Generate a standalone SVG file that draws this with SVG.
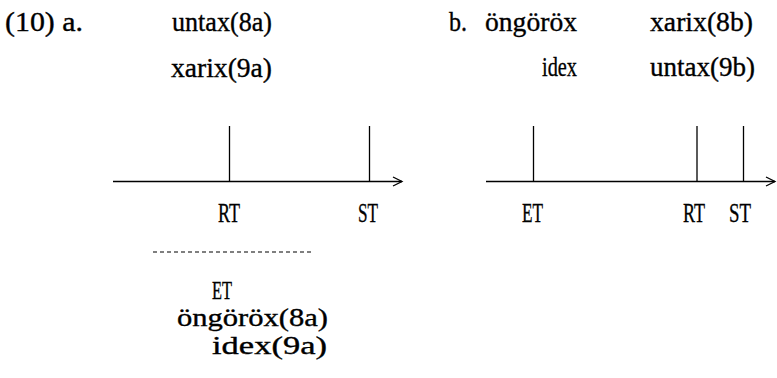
<svg xmlns="http://www.w3.org/2000/svg" width="777" height="378" viewBox="0 0 777 378">
<defs>
<style>
.t{font-family:'Liberation Serif',serif;font-size:28px;fill:#000;stroke:#000;stroke-width:0.35}
.s{font-size:25px}
.ln{stroke:#000;stroke-width:1.3;fill:none}
.dash{stroke:#000;stroke-width:1.1;stroke-dasharray:4 3;fill:none}
</style>
<marker id="arr" markerWidth="12" markerHeight="12" refX="10" refY="6" orient="auto" markerUnits="userSpaceOnUse">
<polyline points="1,1.5 10,6 1,10.5" fill="none" stroke="#000" stroke-width="1.3"/>
</marker>
</defs>
<g id="labels">
<text class="t" x="5" y="31" textLength="78" lengthAdjust="spacingAndGlyphs">(10) a.</text>
<text class="t" x="172" y="31" textLength="100" lengthAdjust="spacingAndGlyphs">untax(8a)</text>
<text class="t" x="171" y="77" textLength="101" lengthAdjust="spacingAndGlyphs">xarix(9a)</text>
<text class="t" x="449" y="31" textLength="18" lengthAdjust="spacingAndGlyphs">b.</text>
<text class="t" x="485" y="31" textLength="92" lengthAdjust="spacingAndGlyphs">öngöröx</text>
<text class="t" x="650" y="31" textLength="103" lengthAdjust="spacingAndGlyphs">xarix(8b)</text>
<text class="t" x="542" y="76" textLength="35" lengthAdjust="spacingAndGlyphs">idex</text>
<text class="t" x="650" y="76" textLength="105" lengthAdjust="spacingAndGlyphs">untax(9b)</text>
</g>
<g id="connectors">
<line class="ln" x1="113" y1="181.5" x2="402" y2="181.5" marker-end="url(#arr)"/>
<line class="ln" x1="229.5" y1="126" x2="229.5" y2="181.5"/>
<line class="ln" x1="369.5" y1="126" x2="369.5" y2="181.5"/>
<line class="ln" x1="486" y1="181.5" x2="775" y2="181.5" marker-end="url(#arr)"/>
<line class="ln" x1="533.5" y1="126" x2="533.5" y2="181.5"/>
<line class="ln" x1="697" y1="126" x2="697" y2="181.5"/>
<line class="ln" x1="743.5" y1="126" x2="743.5" y2="181.5"/>
<line class="dash" x1="153" y1="252" x2="312" y2="252"/>
</g>
<g id="node-a-RT"><text class="t" x="218" y="222" textLength="22" lengthAdjust="spacingAndGlyphs">RT</text></g>
<g id="node-a-ST"><text class="t" x="358" y="222" textLength="20" lengthAdjust="spacingAndGlyphs">ST</text></g>
<g id="node-b-ET"><text class="t" x="522" y="222" textLength="21" lengthAdjust="spacingAndGlyphs">ET</text></g>
<g id="node-b-RT"><text class="t" x="683" y="222" textLength="22" lengthAdjust="spacingAndGlyphs">RT</text></g>
<g id="node-b-ST"><text class="t" x="729" y="222" textLength="22" lengthAdjust="spacingAndGlyphs">ST</text></g>
<g id="node-a-ET">
<text class="t s" x="212" y="299" textLength="20" lengthAdjust="spacingAndGlyphs">ET</text>
<text class="t s" x="177" y="326" textLength="151" lengthAdjust="spacingAndGlyphs">öngöröx(8a)</text>
<text class="t s" x="212" y="354" textLength="115" lengthAdjust="spacingAndGlyphs">idex(9a)</text>
</g>
</svg>
